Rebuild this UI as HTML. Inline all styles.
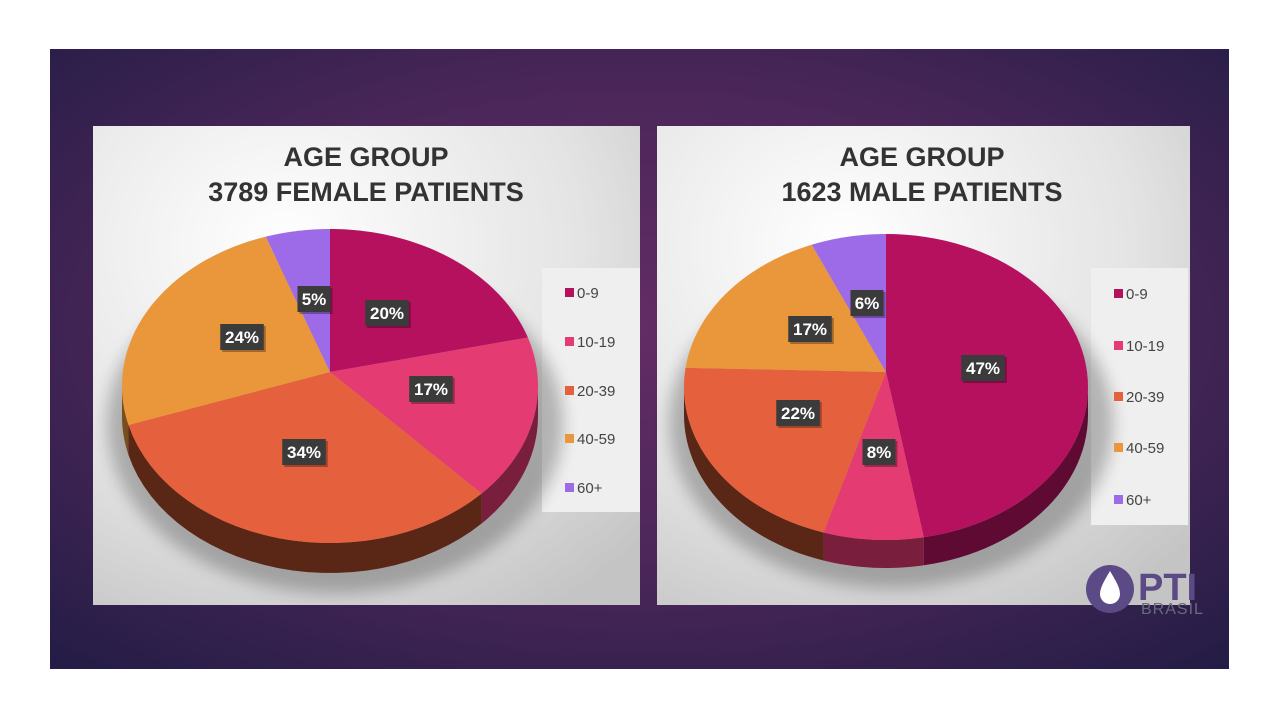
<!DOCTYPE html>
<html><head><meta charset="utf-8"><style>
html,body{margin:0;padding:0;background:#fff;width:1280px;height:720px;overflow:hidden}
svg{display:block}
</style></head><body>
<svg id="s" width="1280" height="720" xmlns="http://www.w3.org/2000/svg">
<defs>
<radialGradient id="bg" cx="0.5" cy="0.45" r="0.75">
<stop offset="0" stop-color="#622c64"/><stop offset="0.5" stop-color="#4c2759"/><stop offset="1" stop-color="#221c45"/>
</radialGradient>
<radialGradient id="pn" cx="0.35" cy="0.25" r="0.9">
<stop offset="0" stop-color="#ffffff"/><stop offset="0.6" stop-color="#e4e4e4"/><stop offset="1" stop-color="#c4c4c4"/>
</radialGradient>
<filter id="sh" x="-20%" y="-20%" width="140%" height="140%"><feGaussianBlur stdDeviation="8"/></filter>
</defs>
<rect x="50" y="49" width="1179" height="620" fill="url(#bg)"/>
<rect x="93" y="126" width="547" height="479" fill="url(#pn)"/>
<rect x="657" y="126" width="533" height="479" fill="url(#pn)"/>
<g font-family="Liberation Sans, sans-serif" font-weight="bold" font-size="27" fill="#333" text-anchor="middle">
<text x="366" y="166">AGE GROUP</text><text x="366" y="201">3789 FEMALE PATIENTS</text>
<text x="922" y="166">AGE GROUP</text><text x="922" y="201">1623 MALE PATIENTS</text>
</g>
<rect x="542" y="268" width="98" height="244" fill="#efefef"/>
<rect x="1091" y="268" width="97" height="257" fill="#efefef"/>
<g id="pies"></g>
<g font-family="Liberation Sans, sans-serif" font-size="15" fill="#444" id="leg"></g>
<circle cx="1110" cy="589" r="24" fill="#5b4a85"/>
<path d="M1110 571 C1104 581 1100 588 1100 594 A10 10 0 0 0 1120 594 C1120 588 1116 581 1110 571Z" fill="#fff"/>
<text x="1138" y="600" font-family="Liberation Sans, sans-serif" font-weight="bold" font-size="38" fill="#5b4a85">PTI</text>
<text x="1141" y="614" font-family="Liberation Sans, sans-serif" font-size="16" fill="#6a6a80" letter-spacing="1">BRASIL</text>
</svg>
<script>
var C=['#b5115f','#e33b72','#e5603c','#ea963b','#9d6ae8'];
var D=['#5e0a33','#7a1e3d','#5a2616','#7a4d1c','#4e3575'];
var names=['0-9','10-19','20-39','40-59','60+'];
var NS='http://www.w3.org/2000/svg';
var g=document.getElementById('pies');
function el(t,a,p){var e=document.createElementNS(NS,t);for(var k in a)e.setAttribute(k,a[k]);(p||g).appendChild(e);return e;}
function pie(cx,cy,ax,ay,rx,ry,dep,vals,lab){
 el('ellipse',{cx:cx+5,cy:cy+dep+8,rx:rx+20,ry:ry+12,fill:'#000',opacity:0.25,filter:'url(#sh)'});
 function P(t){return [cx+rx*Math.sin(t),cy-ry*Math.cos(t)];}
 var a=0,angs=[];
 vals.forEach(function(v){angs.push([a,a+v/100*2*Math.PI]);a+=v/100*2*Math.PI;});
 angs.forEach(function(r,i){
  var s=Math.max(r[0],Math.PI/2),e=Math.min(r[1],3*Math.PI/2);
  if(e<=s)return;
  var d='',n=30;
  for(var k=0;k<=n;k++){var p=P(s+(e-s)*k/n);d+=(k?'L':'M')+p[0]+' '+p[1];}
  for(var k=n;k>=0;k--){var p=P(s+(e-s)*k/n);d+='L'+p[0]+' '+(p[1]+dep);}
  el('path',{d:d+'Z',fill:D[i]});
 });
 angs.forEach(function(r,i){
  var d='M'+ax+' '+ay,n=60;
  for(var k=0;k<=n;k++){var p=P(r[0]+(r[1]-r[0])*k/n);d+='L'+p[0]+' '+p[1];}
  el('path',{d:d+'Z',fill:C[i]});
 });
 lab.forEach(function(l,i){
  var w=l[2].length*10.5+12;
  el('rect',{x:l[0]-w/2+2,y:l[1]-13+2,width:w,height:26,fill:'#000',opacity:0.3});
  el('rect',{x:l[0]-w/2,y:l[1]-13,width:w,height:26,fill:'#3b3b3b'});
  var t=el('text',{x:l[0],y:l[1]+6,'text-anchor':'middle','font-family':'Liberation Sans, sans-serif','font-weight':'bold','font-size':17,fill:'#fff'});
  t.textContent=l[2];
 });
}
pie(330,386,330,372,208,157,30,[20,17,34,24,5],[[387,313,'20%'],[431,389,'17%'],[304,452,'34%'],[242,337,'24%'],[314,299,'5%']]);
pie(886,387,886,372,202,153,28,[47,8,22,17,6],[[983,368,'47%'],[879,452,'8%'],[798,413,'22%'],[810,329,'17%'],[867,303,'6%']]);
var lg=document.getElementById('leg');
function legend(x,ys){ys.forEach(function(y,i){el('rect',{x:x,y:y-5,width:9,height:9,fill:C[i]},lg);var t=el('text',{x:x+12,y:y+5},lg);t.textContent=names[i];});}
legend(565,[293,342,391,439,488]);
legend(1114,[294,346,397,448,500]);
</script>
</body></html>
